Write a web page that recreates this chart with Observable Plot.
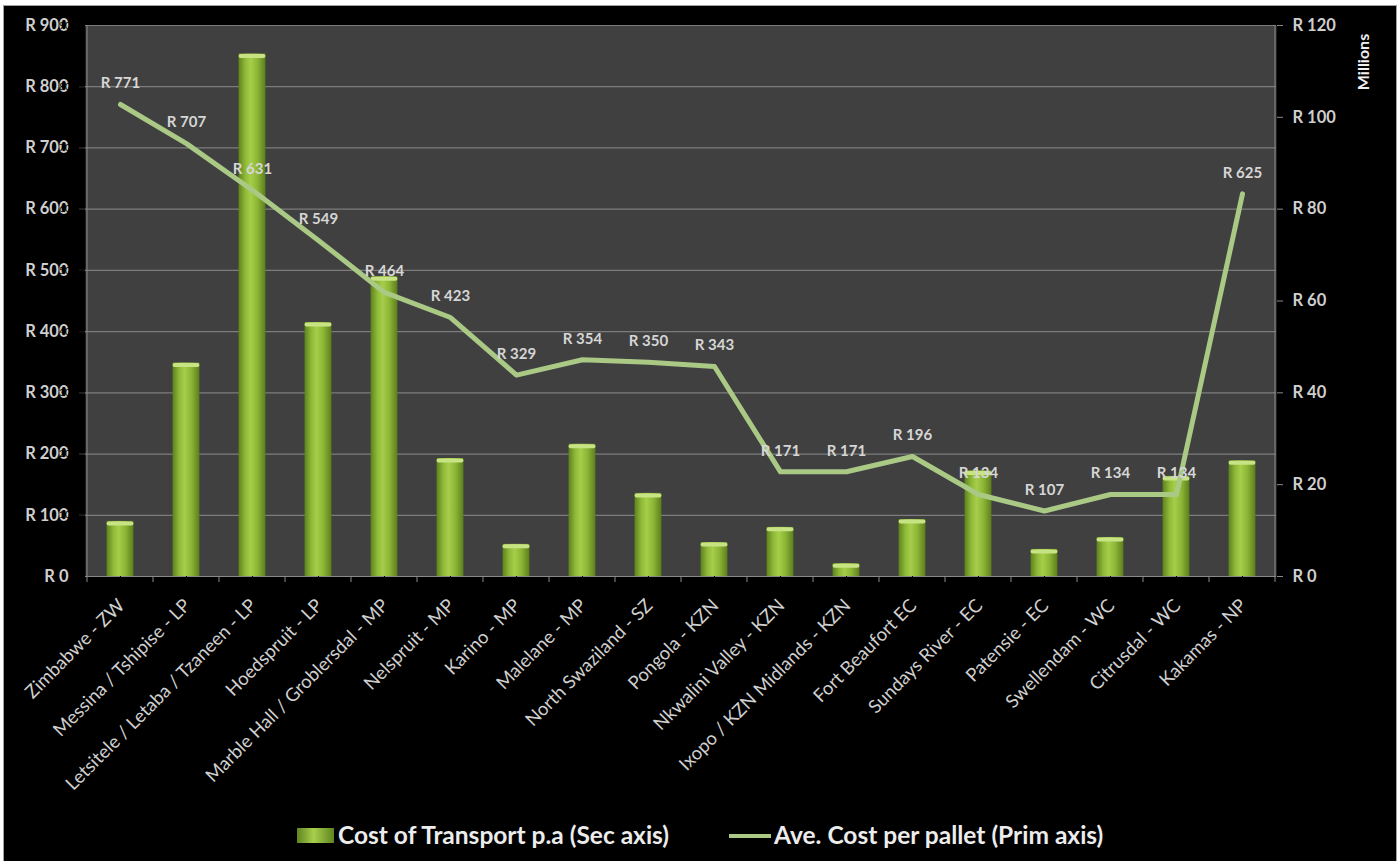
<!DOCTYPE html>
<html>
<head>
<meta charset="utf-8">
<script src="https://cdn.jsdelivr.net/npm/d3@7"></script>
<script src="https://cdn.jsdelivr.net/npm/@observablehq/plot@0.6"></script>
<style>
  html, body { margin: 0; padding: 0; background: #ffffff; }
  #wrap { position: relative; width: 1400px; height: 861px; overflow: hidden; background: #fff; }
  #box { position: absolute; left: 3px; top: 5px; width: 1392px; height: 870px; background: #000; border: 1px solid #a0a0a0; }
  .layer { position: absolute; left: 0; top: 0; }
  #millions { position: absolute; left: 1362px; top: 62px; transform: translate(-50%, -50%) rotate(-90deg);
    font: bold 16px Lato, sans-serif; color: #f0f0f0; white-space: nowrap; }
  .leg { position: absolute; font: bold 24.5px Lato, "Open Sans", sans-serif; color: #ececec; white-space: nowrap; }
</style>
</head>
<body>
<div id="wrap">
  <div id="box"></div>
  <div id="l1" class="layer"></div>
  <div id="l2" class="layer"></div>
  <div id="l3" class="layer"></div>
  <div id="millions">Millions</div>
  <svg class="layer" width="1400" height="861" style="pointer-events:none">
    <defs>
      <linearGradient id="legGrad" x1="0" x2="1" y1="0" y2="0">
        <stop offset="0%" stop-color="#5f8420"/>
        <stop offset="45%" stop-color="#a8cf4c"/>
        <stop offset="100%" stop-color="#5f8420"/>
      </linearGradient>
    </defs>
    <rect x="297" y="828" width="37" height="15" fill="url(#legGrad)"/>
    <line x1="729" x2="771" y1="836" y2="836" stroke="#a9c985" stroke-width="4"/>
  </svg>
  <div class="leg" style="left:338px; top:820px;">Cost of Transport p.a (Sec axis)</div>
  <div class="leg" style="left:774px; top:820px;">Ave. Cost per pallet (Prim axis)</div>
</div>
<script>
// ---- data ----
const categories = [
  "Zimbabwe - ZW", "Messina / Tshipise - LP", "Letsitele / Letaba / Tzaneen - LP", "Hoedspruit - LP",
  "Marble Hall / Groblersdal - MP", "Nelspruit - MP", "Karino - MP", "Malelane - MP",
  "North Swaziland - SZ", "Pongola - KZN", "Nkwalini Valley - KZN", "Ixopo / KZN Midlands - KZN",
  "Fort Beaufort EC", "Sundays River - EC", "Patensie - EC", "Swellendam - WC",
  "Citrusdal - WC", "Kakamas - NP"
];
// Ave. cost per pallet (R, primary/left axis)
const palletCost = [771, 707, 631, 549, 464, 423, 329, 354, 350, 343, 171, 171, 196, 134, 107, 134, 134, 625];
// Cost of transport p.a. (R millions, secondary/right axis)
const transportCost = [12.0, 46.5, 113.8, 55.3, 65.3, 25.7, 7.0, 28.8, 18.1, 7.4, 10.7, 2.8, 12.4, 23.0, 5.9, 8.5, 21.8, 25.2];
const leftTicks = [0, 100, 200, 300, 400, 500, 600, 700, 800, 900];
const rightTicks = [0, 20, 40, 60, 80, 100, 120];

const rows = categories.map((c, i) => ({cat: c, pallet: palletCost[i], transport: transportCost[i]}));

// ---- layout ----
const W = 1400, H = 800;
const mL = 85, mR = 124, mT = 25, mB = 224;
const step = (W - mL - mR) / categories.length;
const barInset = (step - 27) / 2;
const font = "Lato, 'Open Sans', sans-serif";
const axisCol = "#8a8a8a";
const txtCol = "#cfcfcf";

const common = {
  width: W, height: H, marginLeft: mL, marginRight: mR, marginTop: mT, marginBottom: mB,
  style: {background: "transparent", fontFamily: font, overflow: "visible"},
  x: {type: "band", domain: categories, padding: 0, label: null},
};

// Layer 1: plot background, grid, left axis
const p1 = Plot.plot({
  ...common,
  y: {domain: [0, 900], label: null},
  marks: [
    Plot.frame({fill: "#404040", stroke: null}),
    Plot.ruleY(leftTicks.filter(d => d > 0), {stroke: "#7c7c7c", strokeWidth: 1.2}),
    Plot.axisY(leftTicks, {anchor: "left", label: null, tickSize: 6, tickPadding: 11, stroke: axisCol, tickFormat: d => "R " + d,
      fill: txtCol, fontSize: 16.5, fontWeight: "bold"}),
  ]
});
document.getElementById("l1").append(p1);

// Layer 2: bars (secondary axis), right axis, x axis
const p2 = Plot.plot({
  ...common,
  y: {domain: [0, 120], label: null},
  marks: [
    Plot.barY(rows, {x: "cat", y: "transport", fill: "url(#barGrad)", insetLeft: barInset, insetRight: barInset}),
    Plot.tickY(rows, {x: "cat", y: "transport", stroke: "#c8e384", strokeWidth: 4, inset: barInset + 2, dy: 2, strokeLinecap: "round"}),
    Plot.axisY(rightTicks, {anchor: "right", label: null, tickSize: 6, tickPadding: 10, stroke: axisCol, tickFormat: d => "R " + d,
      fill: txtCol, fontSize: 16.5, fontWeight: "bold"}),
    Plot.axisX({label: null, tickSize: 0, tickRotate: -45, tickPadding: 26, fill: txtCol, fontSize: 18.5, dx: 1}),
    Plot.ruleY([0], {stroke: axisCol, strokeWidth: 1.2})
  ]
});
// gradient defs + x-axis boundary ticks + vertical axis lines
{
  const svg = d3.select(p2);
  const defs = svg.insert("defs", ":first-child");
  const g = defs.append("linearGradient").attr("id", "barGrad").attr("x1", 0).attr("x2", 1).attr("y1", 0).attr("y2", 0);
  [["0%", "#5e821e"], ["25%", "#8fb938"], ["45%", "#a6ce4a"], ["70%", "#8db636"], ["100%", "#5c7e1c"]]
    .forEach(([o, c]) => g.append("stop").attr("offset", o).attr("stop-color", c));
  const xs = p2.scale("x"), ys = p2.scale("y");
  const y0 = ys.apply(0), yTop = ys.apply(120);
  const gt = svg.append("g").attr("stroke", axisCol);
  const xStart = xs.apply(categories[0]);
  const xEnd = xs.apply(categories[categories.length - 1]) + xs.bandwidth;
  for (let i = 0; i <= categories.length; i++) {
    const xv = i < categories.length ? xs.apply(categories[i]) : xEnd;
    gt.append("line").attr("x1", xv).attr("x2", xv).attr("y1", y0).attr("y2", y0 + 6);
  }
  gt.append("line").attr("x1", xStart).attr("x2", xStart).attr("y1", yTop).attr("y2", y0);
  gt.append("line").attr("x1", xEnd).attr("x2", xEnd).attr("y1", yTop).attr("y2", y0);
}
document.getElementById("l2").append(p2);

// Layer 3: line (primary axis) and labels
const p3 = Plot.plot({
  ...common,
  y: {domain: [0, 900], label: null},
  marks: [
    Plot.line(rows, {x: "cat", y: "pallet", stroke: "#a9c985", strokeWidth: 5, strokeLinejoin: "round", strokeLinecap: "round"}),
    Plot.text(rows, {x: "cat", y: "pallet", text: d => "R " + d.pallet, dy: -21, fill: "#d6d6d6", fontSize: 15, fontWeight: "bold"})
  ]
});
document.getElementById("l3").append(p3);
</script>
</body>
</html>
